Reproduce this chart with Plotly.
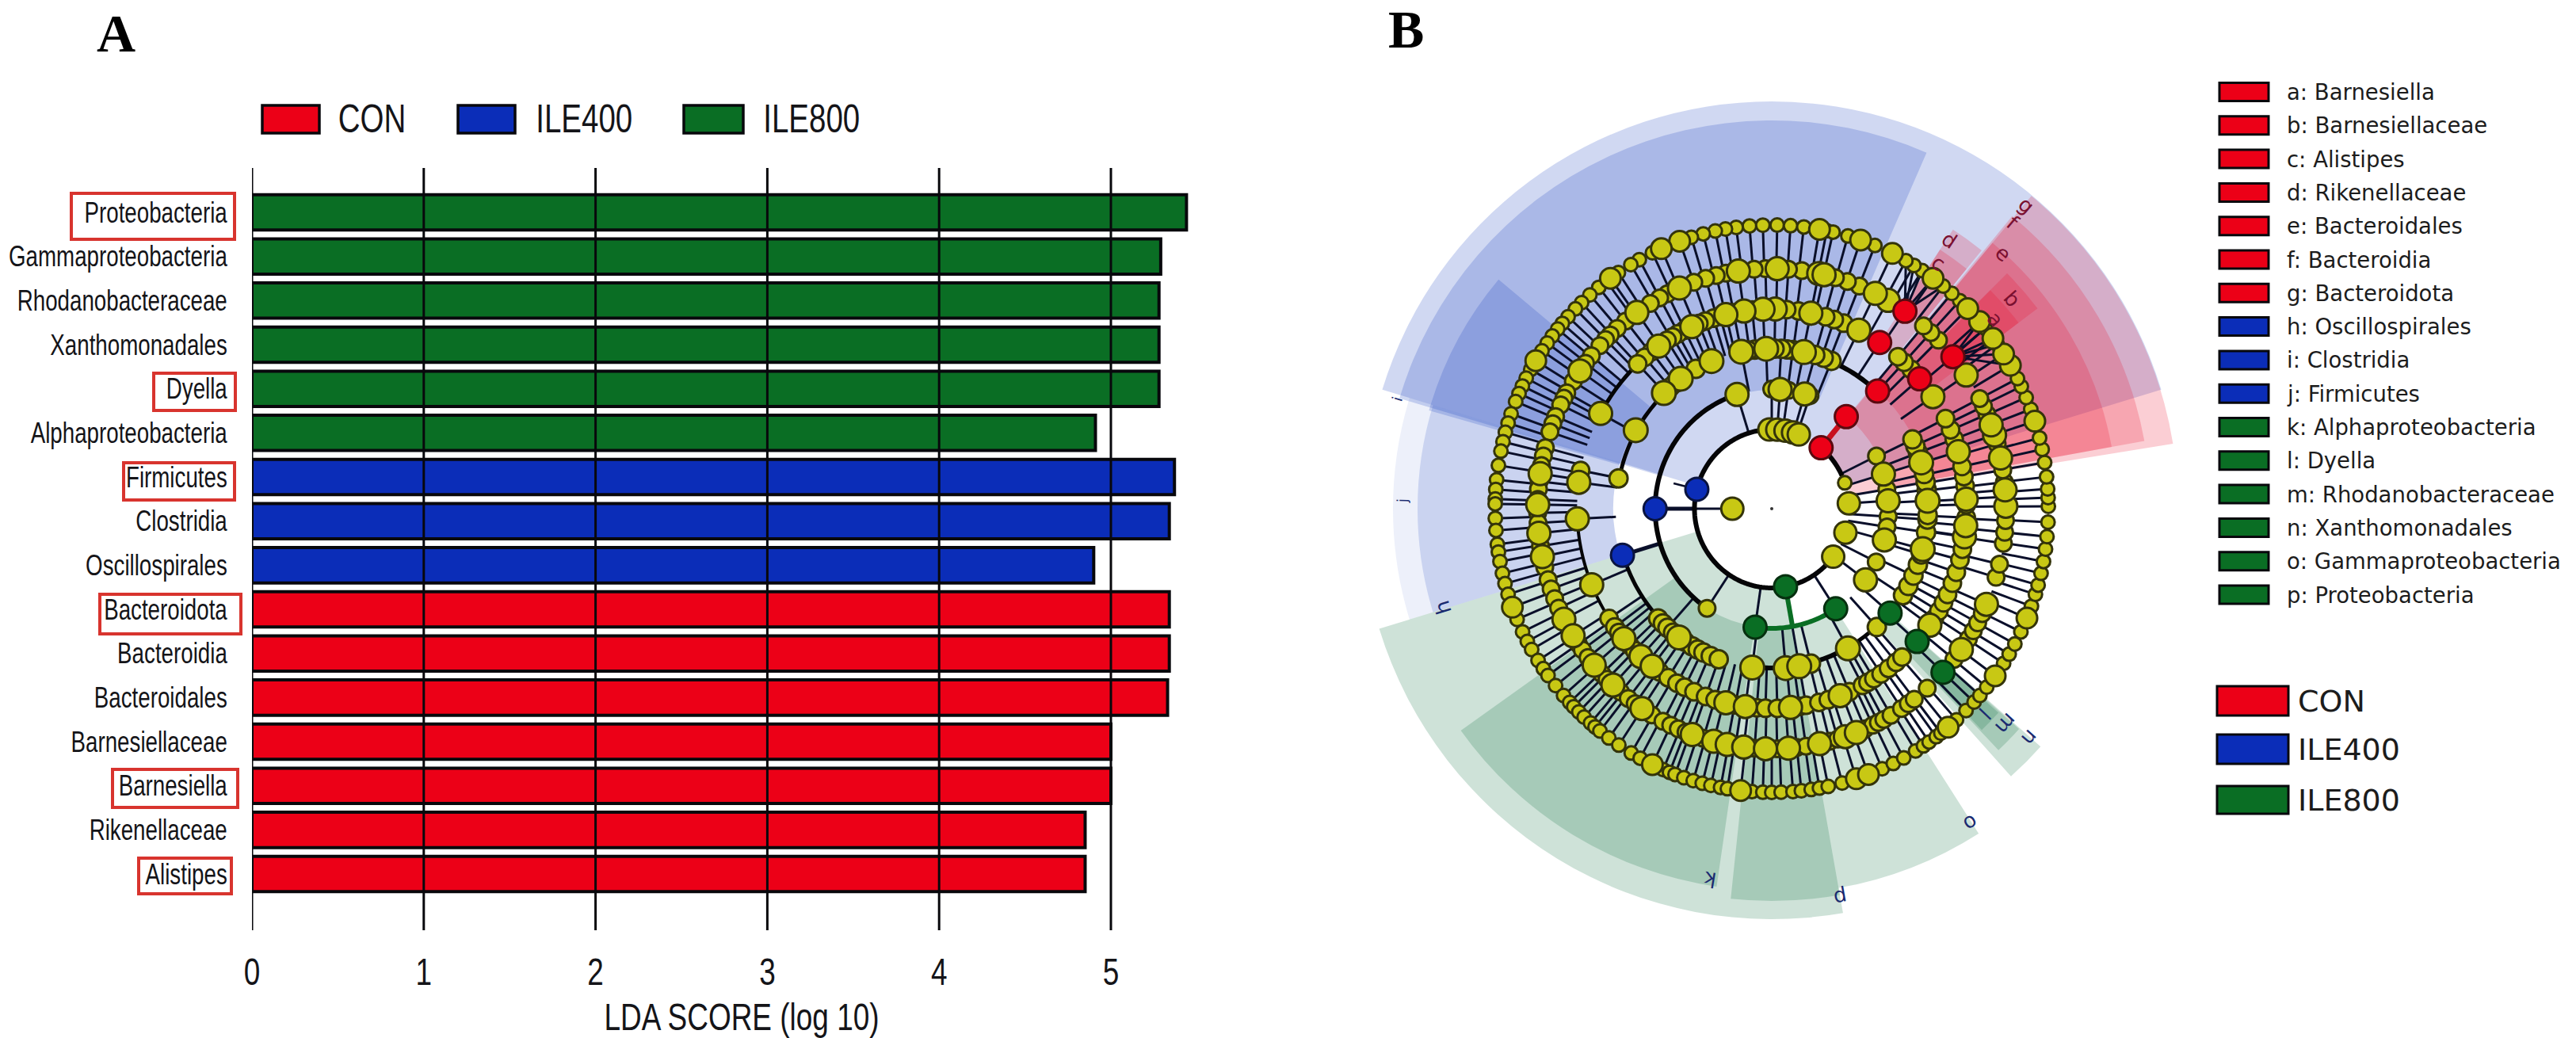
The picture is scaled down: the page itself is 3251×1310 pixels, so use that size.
import numpy as np
import plotly.graph_objects as go

W, H = 3251, 1310

# ---------- Panel A data ----------
taxa = ["Proteobacteria", "Gammaproteobacteria", "Rhodanobacteraceae", "Xanthomonadales", "Dyella",
        "Alphaproteobacteria", "Firmicutes", "Clostridia", "Oscillospirales", "Bacteroidota", "Bacteroidia",
        "Bacteroidales", "Barnesiellaceae", "Barnesiella", "Rikenellaceae", "Alistipes"]
ile800_taxa = taxa[:6]
ile800_scores = [5.44, 5.29, 5.28, 5.28, 5.28, 4.91]
ile400_taxa = taxa[6:9]
ile400_scores = [5.37, 5.34, 4.90]
con_taxa = taxa[9:]
con_scores = [5.34, 5.34, 5.33, 5.00, 5.00, 4.85, 4.85]
x_ticks = [0, 1, 2, 3, 4, 5]

# ---------- Panel B data: node angles (degrees) per ring of the cladogram ----------
ring6_small = [94.5, 91.8, 88.9, 86.2, 83.5, 78.8, 97.2, 99.4, 101.5, 104, 106.5, 115, 118, 120, 123, 126, 128, 130.4, 132.7, 134.5,
               136.7, 138.5, 140, 141.8, 143.6, 145.5, 150, 152, 153.8, 155.5, 157.3, 160, 162, 164, 166, 168, 171, 174, 176, 178, 179, 182,
               184.5, 187.4, 189, 191, 193.5, 195.7, 198, 203.5, 206.3, 208.5, 210.4, 213, 215, 216.7, 219.3, 221.9, 223.8, 225, 226.5, 228, 229.8, 231, 232.3, 234.6,
               237.1, 240.1, 242.2, 247.4, 248.8, 250, 251.9, 253.9, 255.8, 257.6, 259.6, 261, 266, 268.2, 270, 271.9, 274.3,
               276, 278, 279.7, 281.5, 284.4, 293, 295.5, 297.9, 300.7, 302.6, 304, 305.8, 307, 311.2, 313.9, 316.3, 318.1,
               320.3, 326.3, 328.5, 330.9, 333.7, 339.4, 342, 344, 346.5, 349, 351.6, 354.2, 357.2, 0.5, 2.3, 4.1, 6.6,
               9.6, 12.4, 14.8, 21, 23.6, 26.1, 27.9, 36.1, 40.2, 47.9, 50.1, 52.4, 57.7, 59.7, 61.6, 68.6, 74.4, 77.5]
ring6_big = [80.3, 109, 113, 125, 147.9, 200.8, 245, 263.7, 287.4, 290, 308.9, 323.2, 336.8, 18.4, 31, 33.7, 37.6,
             42, 45.6, 55, 64.7, 71.7]

ring5_small = [82.8, 86, 91.5, 94.2, 101, 103.4, 106, 109, 115.9, 118, 120.6, 127.9, 130.6, 132.9, 134.5, 136.5, 139.7, 142,
               147.3, 150.5, 152, 153.8, 156.9, 158.8, 160.9, 164.9, 167, 169.4, 173.3, 175.2, 177.7, 181, 183.5, 189.2, 194.5, 197.6, 200, 202.5, 205, 215, 216.7, 219, 224.2, 226,
               230.5, 232.9, 235, 239.8, 242.9, 245, 247, 249, 253.4, 261.3, 265.9, 271.3, 276, 278.2, 284, 286, 293, 295, 296.5, 298, 300, 303, 305, 306.8, 310.9, 320.4,
               326.5, 328.8, 331, 333.5, 343, 346.3, 351.5, 354.2, 357.1, 2.9, 6.5, 9.5, 16, 23.7, 25.8, 27.9, 45.3, 47.9, 50.3,
               68.5, 71.6, 74.6]
ring5_big = [78.7, 88.7, 98, 112.7, 124.5, 144.3, 171.4, 179, 186, 191.8, 208, 212.6, 221.4, 228, 237, 250.6, 256,
             259.3, 263.3, 268.5, 274, 281.5, 287.9, 290.7, 323.4, 336, 0.6, 4.6, 12.5, 18.3, 20.9, 34.5, 60.8, 64.3, 77.4]

ring4_small = [82.3, 85.7, 95.6, 101, 105, 107, 109.5, 111.5, 116, 118.2, 120, 121.9, 127.5, 130, 132.8, 168.7, 214, 217, 219, 224, 226, 231, 235.5, 238.5, 241.5, 244, 247, 250.6, 253.5,
               259.5, 265.7, 268.2, 271.6, 278, 279.9, 283.7, 286.5, 293, 297.2, 299, 301, 303.5, 306.2, 309, 311.3, 326, 328.5, 331.3, 334, 337.6, 341, 344.8, 348, 351.9,
               357.4, 1.2, 6.7, 9.5, 12.5, 20.9, 23.8, 27.4, 45, 47.9, 50.3, 68.8, 71.7, 74.3]
ring4_big = [78.7, 89, 92.5, 98, 103.3, 113.7, 124.8, 150.9, 172.2, 183, 202.9, 221.3, 228.5, 232.8, 256.7, 262.4,
             275.4, 290.1, 323.6, 351.7, 355, 2.8, 17, 34.8, 64]

ring3_small = [68, 71, 74.2, 82.4, 84.5, 86.6, 89, 96.1, 98.5, 118.5, 127.5, 130, 168.8, 224, 226.5, 228.8, 231.5, 237, 240, 242.3, 244.6, 247.5, 250.6, 284.2, 311.6, 326.6,
               330.5, 334.7, 339, 343, 351.3, 356, 357.7, 7, 9.8, 12.8, 20.9, 23.5, 26.2]
ring3_big = [78.4, 92, 101, 112.2, 125, 133, 150, 234.2, 263, 275, 279.9, 298.6, 345, 2.9, 17.2]
ring3_links = [68, 74.2, 78.4, 82.4, 86.6, 92, 101, 228.8, 263, 275, 279.9, 284.2, 298.6, 311.6, 326.6, 334.7, 343,
               345, 351.3, 356, 357.7, 2.9, 7, 9.8, 12.8, 17.2, 20.9, 26.2]

ring2_small = [90, 82, 71.3, 26.7, 9.6, 356.1, 351, 333, 237]
ring2_big = [106.9, 86, 74, 17.2, 3.9, 344.5, 322.8]
ring1_small = [19.5]
ring1_big = [91.7, 86, 80, 74.4, 70, 4, 342, 322]
ring0_big = [180]

red_ring5 = [56, 40]
red_ring4 = [57, 41.3]
red_ring3 = [48]
red_ring2 = [51]
red_ring1 = [51]
blue_ring3 = [197.3]
blue_ring2 = [180]
blue_ring1 = [165.5]
green_ring5 = [316.3]
green_ring4 = [317.6]
green_ring3 = [318.6]
green_ring2 = [262, 302.6]
green_ring1 = [280]

# fans of fine branches running from a red node to its outer-ring children
fan_parent = [56, 40]
fan_children = [[52.4, 55, 57.7, 59.7, 61.6], [31, 33.7, 36.1, 37.6, 40.2, 42]]

# thick branches (radius, from angle, to angle, width)
arc_r = [100, 100, 100, 151, 151, 201, 201, 201, 252, 252, 201, 201, 201]
arc_from = [91, 167, 25, 107, 183, 197, 150, 133, 133, 185, 263, 298, 48]
arc_to = [164, 280, 51, 176, 237, 224, 169, 150, 151, 212, 298, 311, 68]
arc_width = [6, 6, 6, 6, 6, 5, 5, 5, 5, 4, 6, 5, 6]
green_arc_r = [100, 151]
green_arc_from = [280, 262]
green_arc_to = [322, 302.6]

# highlighted sectors: inner radius, outer radius, start angle, end angle, colour
blue_inner = [100, 150, 200, 200, 200]
blue_outer = [514, 490, 450, 478, 447]
blue_start = [17, 66.5, 140, 163, 163]
blue_end = [163, 163.5, 164, 197, 197]
blue_colour = ["rgba(20,60,190,0.2)", "rgba(20,60,190,0.2)", "rgba(20,60,190,0.2)", "rgba(20,60,190,0.08)", "rgba(20,60,190,0.16)"]
green_inner = [100, 150, 150, 150, 200, 250, 303]
green_outer = [518, 482, 495, 486, 453, 418, 385]
green_start = [197, 215.5, 264, 280, 311.8, 313.2, 313.5]
green_end = [280, 261.7, 280, 302.5, 318.5, 318.3, 318]
red_inner = [100, 150, 200, 250, 300, 250, 300]
red_outer = [513, 478, 436, 420, 390, 420, 390]
red_start = [9.2, 10.3, 10.3, 50.9, 50.9, 37, 37]
red_end = [50.3, 50.6, 50.3, 57, 57, 45, 45]

# ---------- Legends and labels ----------
group_names = ["CON", "ILE400", "ILE800"]
clade_labels = ["a: Barnesiella", "b: Barnesiellaceae", "c: Alistipes", "d: Rikenellaceae", "e: Bacteroidales",
                "f: Bacteroidia", "g: Bacteroidota", "h: Oscillospirales", "i: Clostridia", "j: Firmicutes",
                "k: Alphaproteobacteria", "l: Dyella", "m: Rhodanobacteraceae", "n: Xanthomonadales",
                "o: Gammaproteobacteria", "p: Proteobacteria"]
clade_groups = ["CON"] * 7 + ["ILE400"] * 3 + ["ILE800"] * 6
sector_letters = ["a", "b", "c", "d", "e", "f", "g", "h", "i", "j", "k", "l", "m", "n", "o", "p"]
letter_px = [(2518, 403), (2539, 377), (2446, 332), (2460, 303), (2528, 320), (2540, 281), (2557, 259), (1821, 767),
             (1763, 503), (1769, 632), (2159, 1110), (2505, 900), (2532, 913), (2562, 931), (2487, 1039), (2323, 1133)]
boxed_px = [(90, 244, 296, 302), (194, 471, 297, 518), (156, 584, 296, 631), (126, 750, 304, 800),
            (142, 971, 300, 1019), (175, 1083, 292, 1128)]

RED, BLUE, GREEN = "#ec0017", "#0b2db8", "#0a6e24"
COL = {"CON": RED, "ILE400": BLUE, "ILE800": GREEN}
NARROW = "Liberation Sans Narrow, Liberation Sans, sans-serif"
DEJAVU = "DejaVu Sans, sans-serif"
INK = "#141418"


def px(x):
    return x / W


def py(y):
    return 1 - y / H


def squash(r, a):
    a = np.radians(np.asarray(a, dtype=float))
    return r / np.sqrt((np.cos(a) / 0.975) ** 2 + np.sin(a) ** 2)


fig = go.Figure()

# ---------- Panel A ----------
for name, ys, xs in [("ILE800", ile800_taxa, ile800_scores), ("ILE400", ile400_taxa, ile400_scores),
                     ("CON", con_taxa, con_scores)]:
    fig.add_bar(x=xs, y=ys, orientation="h", name=name, showlegend=False, width=0.8,
                marker=dict(color=COL[name], line=dict(color="#08080c", width=4)))

X0, PPU = 318, 216.8
Y_TOP, Y_BOT, PITCH, FIRST = 212, 1174, 55.67, 268
fig.update_layout(
    xaxis=dict(domain=[px(X0), px(1554)], range=[0, (1554 - X0) / PPU], tickvals=x_ticks, showgrid=False, zeroline=False,
               showline=False, ticks="outside", ticklen=10, tickcolor="rgba(0,0,0,0)", automargin=False,
               tickfont=dict(family=NARROW, size=48, color=INK),
               title=dict(text="LDA SCORE (log 10)", font=dict(family=NARROW, size=48, color=INK))),
    yaxis=dict(domain=[py(Y_BOT), py(Y_TOP)], categoryorder="array", categoryarray=taxa, tickmode="array", tickvals=taxa,
               range=[(Y_BOT - FIRST) / PITCH, (Y_TOP - FIRST) / PITCH], showgrid=False, zeroline=False, showline=False,
               ticks="outside", ticklen=23, tickcolor="rgba(0,0,0,0)", automargin=False,
               tickfont=dict(family=NARROW, size=36, color=INK)),
)

shapes = []
for t in x_ticks:
    shapes.append(dict(type="line", xref="x", yref="y domain", x0=t, x1=t, y0=0, y1=1, layer="above",
                       line=dict(color="#08080c", width=3)))
for x0, y0, x1, y1 in boxed_px:
    shapes.append(dict(type="rect", xref="paper", yref="paper", x0=px(x0), x1=px(x1), y0=py(y0), y1=py(y1),
                       line=dict(color="#d8342e", width=4), fillcolor="rgba(0,0,0,0)"))

annotations = []


def text(x, y, s, size, family=NARROW, color=INK, xanchor="left", angle=0):
    annotations.append(dict(xref="paper", yref="paper", x=px(x), y=py(y), text=s, showarrow=False, xanchor=xanchor,
                            yanchor="middle", textangle=angle, font=dict(family=family, size=size, color=color)))


def swatch(x0, y0, x1, y1, c, lw=3.5):
    shapes.append(dict(type="rect", xref="paper", yref="paper", x0=px(x0), x1=px(x1), y0=py(y0), y1=py(y1), fillcolor=c,
                       line=dict(color="#08080c", width=lw)))


for (x0, x1, tx), name in zip([(331, 403, 469.5), (578, 650, 737), (863, 938, 1024)], group_names):
    swatch(x0, 133, x1, 168, COL[name])
    text(tx, 150, name, 50, xanchor="center")

text(146, 42, "<b>A</b>", 68, family="Liberation Serif, serif", color="black", xanchor="center")
text(1774, 37, "<b>B</b>", 68, family="Liberation Serif, serif", color="black", xanchor="center")

# ---------- Panel B: sectors ----------
for inner, outer, start, end, colours in [
    (blue_inner, blue_outer, blue_start, blue_end, blue_colour),
    (green_inner, green_outer, green_start, green_end, ["rgba(10,110,60,0.2)"] * 7),
    (red_inner, red_outer, red_start, red_end, ["rgba(235,10,40,0.2)"] * 7),
]:
    fig.add_trace(go.Barpolar(
        r=[o - i for i, o in zip(inner, outer)], base=inner,
        theta=[(s + e) / 2 for s, e in zip(start, end)], width=[e - s for s, e in zip(start, end)],
        marker=dict(color=colours, line=dict(width=0)), showlegend=False, subplot="polar"))


# ---------- Panel B: branches ----------
def radial(angles, r_in, r_out, width, color="#0a0f2a"):
    rr, tt = [], []
    for a in angles:
        rr += [float(squash(r_in, a)), float(squash(r_out, a)), None]
        tt += [a, a, None]
    fig.add_trace(go.Scatterpolar(r=rr, theta=tt, mode="lines", line=dict(color=color, width=width), showlegend=False,
                                  subplot="polar", hoverinfo="skip"))


def arc(r, a0, a1, width, color="#050507"):
    tt = np.arange(a0, a1 + 0.5, 1.0)
    fig.add_trace(go.Scatterpolar(r=squash(r, tt), theta=tt, mode="lines", line=dict(color=color, width=width),
                                  showlegend=False, subplot="polar", hoverinfo="skip"))


R = {0: 51, 1: 100, 2: 151, 3: 202, 4: 252, 5: 303, 6: 358}
radial(ring6_small + ring6_big, R[5], R[6], 3)
radial(ring5_small + ring5_big + red_ring5 + green_ring5, R[4], R[5], 3)
radial(ring4_small + ring4_big + red_ring4 + green_ring4, R[3], R[4], 3)
radial(ring3_links + green_ring3, R[2], R[3], 3)
radial(ring2_small + ring2_big + green_ring2, R[1], R[2], 3)
radial(ring0_big, R[0], R[1], 3)
radial(blue_ring3, R[2], R[3], 5)
radial(blue_ring2, R[1], R[2], 5)
radial(blue_ring1, R[1], R[2] - 20, 2.5)
radial(red_ring2, R[1], R[2], 7, color="#c8101e")
radial(green_ring1, R[1], R[2], 6, color=GREEN)
for parent, children in zip(fan_parent, fan_children):
    rr, tt = [], []
    for c in children:
        rr += [float(squash(R[5], parent)), float(squash(R[6], c)), None]
        tt += [parent, c, None]
    fig.add_trace(go.Scatterpolar(r=rr, theta=tt, mode="lines", line=dict(color="#0a0f2a", width=3), showlegend=False,
                                  subplot="polar", hoverinfo="skip"))
for r, a0, a1, w in zip(arc_r, arc_from, arc_to, arc_width):
    arc(r, a0, a1, w)
for r, a0, a1 in zip(green_arc_r, green_arc_from, green_arc_to):
    arc(r, a0, a1, 6, color=GREEN if r == 151 else "#050507")


# ---------- Panel B: nodes ----------
def nodes(angles, ring, size, color="#c8c814", edge="#34340a", lw=3):
    fig.add_trace(go.Scatterpolar(r=squash(R[ring], angles), theta=angles, mode="markers", showlegend=False,
                                  subplot="polar", marker=dict(size=size, color=color, line=dict(color=edge, width=lw))))


nodes(ring6_small, 6, 17)
nodes(ring6_big, 6, 26)
nodes(ring5_small, 5, 21)
nodes(ring5_big, 5, 29)
nodes(ring4_small, 4, 22)
nodes(ring4_big, 4, 29)
nodes(ring3_small, 3, 23)
nodes(ring3_big, 3, 30)
nodes(ring2_small, 2, 21)
nodes(ring2_big, 2, 29)
nodes(ring1_small, 1, 17)
nodes(ring1_big, 1, 28)
nodes(ring0_big, 0, 28)
for lst, ring in [(red_ring5, 5), (red_ring4, 4), (red_ring3, 3), (red_ring2, 2), (red_ring1, 1)]:
    nodes(lst, ring, 29, color=RED, edge="#5a0a10")
for lst, ring in [(blue_ring3, 3), (blue_ring2, 2), (blue_ring1, 1)]:
    nodes(lst, ring, 29, color=BLUE, edge="#0a1440")
for lst, ring in [(green_ring5, 5), (green_ring4, 4), (green_ring3, 3), (green_ring2, 2), (green_ring1, 1)]:
    nodes(lst, ring, 29, color=GREEN, edge="#06300f")
fig.add_trace(go.Scatterpolar(r=[0], theta=[0], mode="markers", showlegend=False, subplot="polar",
                              marker=dict(size=4, color="#333333")))

CX, CY, RMAX = 2236, 642, 620
fig.update_layout(polar=dict(
    domain=dict(x=[px(CX - RMAX), px(CX + RMAX)], y=[py(CY + RMAX), py(CY - RMAX)]),
    bgcolor="rgba(0,0,0,0)", barmode="overlay",
    radialaxis=dict(visible=False, range=[0, RMAX]),
    angularaxis=dict(visible=False, direction="counterclockwise", rotation=0)))

# sector letters
for letter, (x, y), group in zip(sector_letters, letter_px, clade_groups):
    a = np.degrees(np.arctan2(CY - y, x - CX))
    size = 18 if letter in "ij" else 26
    text(x, y, letter, size, family=DEJAVU, color="#7a1030" if group == "CON" else "#1a2a70",
         xanchor="center", angle=float(90 - a))

# clade legend
for i, (label, group) in enumerate(zip(clade_labels, clade_groups)):
    y = 116 + i * 42.3
    swatch(2801, y - 11.5, 2863, y + 11.5, COL[group], lw=3)
    text(2884, y, label, 27.5, family=DEJAVU, color="#1c1c1c")
for (y0, y1), name in zip([(866, 903), (927, 964), (992, 1027)], group_names):
    swatch(2798, y0, 2888, y1, COL[name], lw=3)
    text(2898, (y0 + y1) / 2, name, 38, family=DEJAVU, color="#1c1c1c")

fig.update_layout(width=W, height=H, margin=dict(l=0, r=0, t=0, b=0), paper_bgcolor="white", plot_bgcolor="white",
                  barmode="overlay", shapes=shapes, annotations=annotations)

# the reference's panel A lettering is horizontally condensed; no condensed face is installed
condense = """
document.body.style.margin='0';
function condenseText(){
  document.querySelectorAll('svg text').forEach(function(t){
    var f=t.style.fontFamily||'';
    if(f.indexOf('Narrow')<0||t.getAttribute('data-cond')) return;
    var n=t.getComputedTextLength();
    if(n>0){t.setAttribute('textLength',n*0.77);t.setAttribute('lengthAdjust','spacingAndGlyphs');t.setAttribute('data-cond','1');}
  });
}
condenseText(); setTimeout(condenseText,200); setTimeout(condenseText,800);
"""
fig.write_html("out.html", post_script=condense, config=dict(displayModeBar=False))
